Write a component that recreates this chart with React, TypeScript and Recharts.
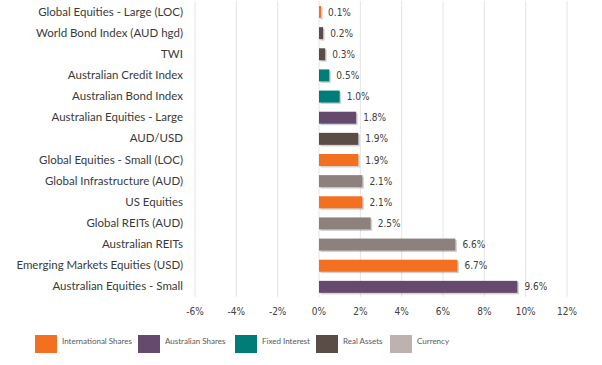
import { BarChart, Bar, XAxis, YAxis, CartesianGrid, Cell, LabelList } from "recharts"

const categories = [
  "Global Equities - Large (LOC)",
  "World Bond Index (AUD hgd)",
  "TWI",
  "Australian Credit Index",
  "Australian Bond Index",
  "Australian Equities - Large",
  "AUD/USD",
  "Global Equities - Small (LOC)",
  "Global Infrastructure (AUD)",
  "US Equities",
  "Global REITs (AUD)",
  "Australian REITs",
  "Emerging Markets Equities (USD)",
  "Australian Equities - Small",
]

const returns = [0.1, 0.2, 0.3, 0.5, 1.0, 1.8, 1.9, 1.9, 2.1, 2.1, 2.5, 6.6, 6.7, 9.6]

const sectors = [
  "International Shares",
  "Currency",
  "Currency",
  "Fixed Interest",
  "Fixed Interest",
  "Australian Shares",
  "Currency",
  "International Shares",
  "Real Assets",
  "International Shares",
  "Real Assets",
  "Real Assets",
  "International Shares",
  "Australian Shares",
]

const xTicks = [-6, -4, -2, 0, 2, 4, 6, 8, 10, 12]

const legendNames = ["International Shares", "Australian Shares", "Fixed Interest", "Real Assets", "Currency"]

const barFill: Record<string, string> = {
  "International Shares": "#F37021",
  "Australian Shares": "#664A6D",
  "Fixed Interest": "#007D79",
  "Real Assets": "#8C817D",
  Currency: "#5A4D48",
}

const legendFill: Record<string, string> = {
  "International Shares": "#F37021",
  "Australian Shares": "#664A6D",
  "Fixed Interest": "#007D79",
  "Real Assets": "#5A4D48",
  Currency: "#BDB2AF",
}

const legendX = [35, 138, 235, 316, 390]

const data = categories.map((name, i) => ({ name, value: returns[i], sector: sectors[i] }))

const ShadowBar = (props: any) => {
  const { x, y, width, height, fill } = props
  if (width <= 0) return null
  return (
    <g>
      <rect x={x + 1.5} y={y + 1.5} width={width} height={height} fill="#000" opacity={0.18} />
      <rect x={x} y={y} width={width} height={height} fill={fill} />
    </g>
  )
}

const CategoryTick = (props: any) => {
  const { x, y, payload } = props
  return (
    <text x={x} y={y} dy="0.35em" textAnchor="end" fill="#3a3a3a" fontSize={11.5} fontFamily="Lato, sans-serif">
      {payload.value}
    </text>
  )
}

export default function App() {
  return (
    <div style={{ position: "absolute", left: 0, top: 0, width: 602, height: 365, background: "#fff" }}>
      <BarChart
        width={602}
        height={365}
        data={data}
        layout="vertical"
        margin={{ top: 1, right: 35, left: 0, bottom: 38 }}
      >
        <CartesianGrid horizontal={false} stroke="#E4E4E4" />
        <XAxis
          type="number"
          domain={[-6, 12]}
          ticks={xTicks}
          tickFormatter={(v) => `${v}%`}
          axisLine={false}
          tickLine={false}
          tickSize={0}
          tickMargin={11}
          height={30}
          tick={{ fill: "#404040", fontSize: 10, fontFamily: "'DejaVu Sans Condensed', 'Liberation Sans', sans-serif" }}
        />
        <YAxis
          type="category"
          dataKey="name"
          width={195}
          axisLine={false}
          tickLine={false}
          tickSize={0}
          tickMargin={12}
          interval={0}
          tick={CategoryTick}
        />
        <Bar dataKey="value" barSize={12} isAnimationActive={false} shape={ShadowBar}>
          {data.map((d, i) => (
            <Cell key={i} fill={barFill[d.sector]} />
          ))}
          <LabelList
            dataKey="value"
            position="right"
            offset={7}
            formatter={(v: any) => `${Number(v).toFixed(1)}%`}
            style={{ fill: "#404040", fontSize: 10, fontFamily: "'DejaVu Sans Condensed', 'Liberation Sans', sans-serif" }}
          />
        </Bar>
      </BarChart>
      {legendNames.map((n, i) => (
        <div key={n} style={{ position: "absolute", left: legendX[i], top: 335 }}>
          <div style={{ position: "absolute", left: 0, top: 0, width: 22, height: 18, background: legendFill[n] }} />
          <div
            style={{
              position: "absolute",
              left: 27,
              top: 1,
              whiteSpace: "nowrap",
              fontSize: 8,
              color: "#595959",
              fontFamily: "Lato, sans-serif",
            }}
          >
            {n}
          </div>
        </div>
      ))}
    </div>
  )
}
